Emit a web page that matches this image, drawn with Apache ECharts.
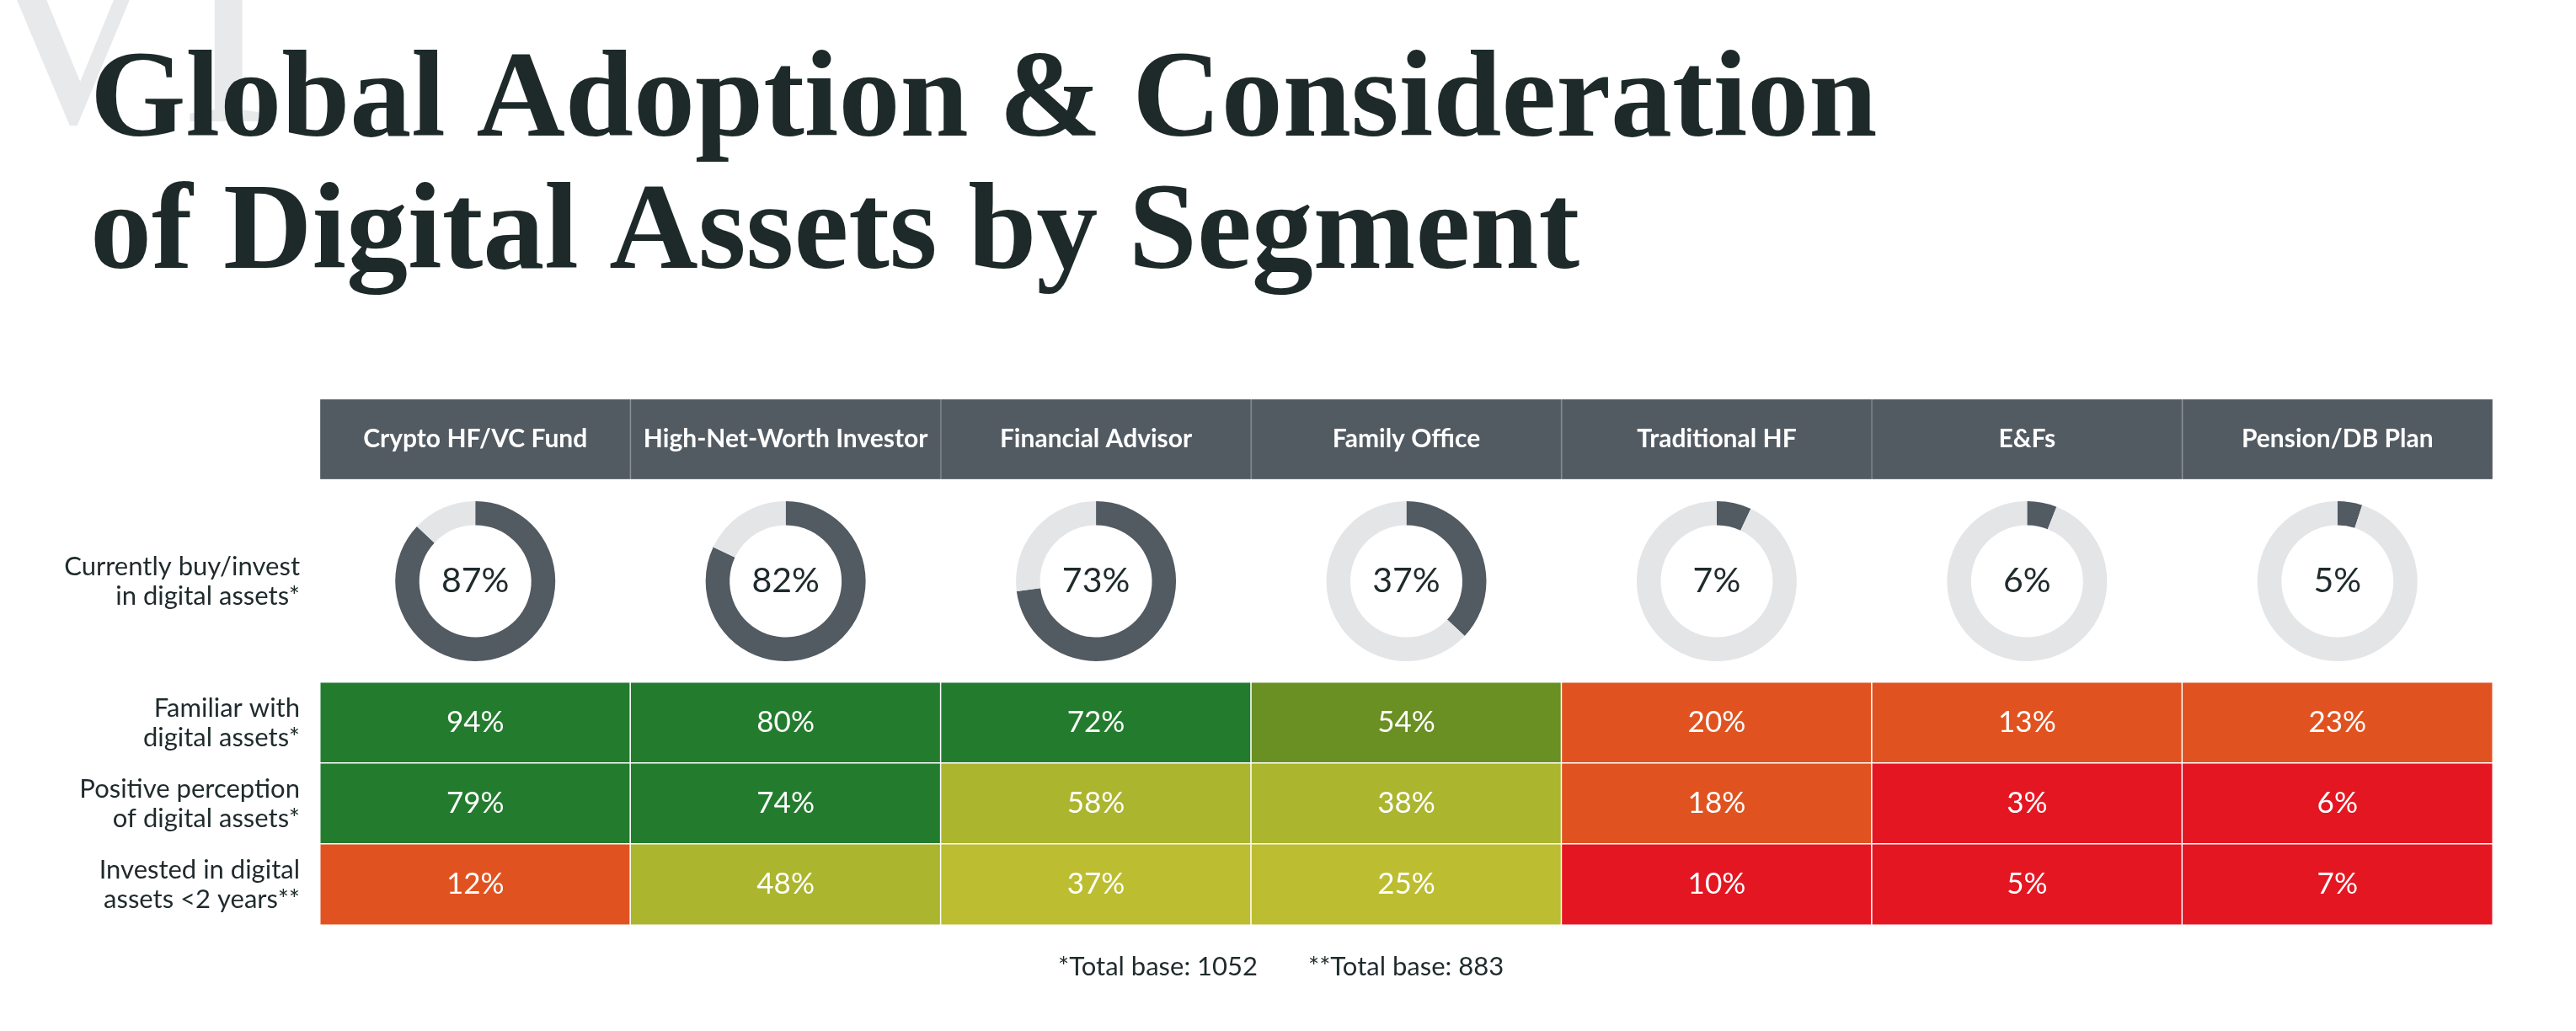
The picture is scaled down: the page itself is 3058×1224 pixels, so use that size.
<!DOCTYPE html>
<html>
<head>
<meta charset="utf-8">
<style>
  html, body { margin: 0; padding: 0; background: #ffffff; }
  #chart { width: 3058px; height: 1224px; }
</style>
<script src="https://cdn.jsdelivr.net/npm/echarts@6/dist/echarts.min.js"></script>
</head>
<body>
<div id="chart"></div>
<script>
// ---------------- DATA ----------------
const segments = ['Crypto HF/VC Fund', 'High-Net-Worth Investor', 'Financial Advisor', 'Family Office', 'Traditional HF', 'E&Fs', 'Pension/DB Plan'];
const currentlyInvest = [87, 82, 73, 37, 7, 6, 5];
const rowLabels = ['Familiar with\ndigital assets*', 'Positive perception\nof digital assets*', 'Invested in digital\nassets <2 years**'];
const familiar = [94, 80, 72, 54, 20, 13, 23];
const positive = [79, 74, 58, 38, 18, 3, 6];
const investedRecent = [12, 48, 37, 25, 10, 5, 7];
// colour tier of each cell as shown in the source (0 = strongest green ... 5 = red)
const familiarTier = [0, 0, 0, 1, 4, 4, 4];
const positiveTier = [0, 0, 2, 2, 4, 5, 5];
const recentTier = [4, 2, 3, 3, 5, 5, 5];
const donutRowLabel = 'Currently buy/invest\nin digital assets*';
const titleText = 'Global Adoption & Consideration\nof Digital Assets by Segment';
const footnote1 = '*Total base: 1052';
const footnote2 = '**Total base: 883';

// ---------------- STYLE / LAYOUT ----------------
const tierColors = ['#237c2e', '#6a8f22', '#abb52e', '#bcbd30', '#e05320', '#e41622'];
const headerColor = '#525a62';
const donutRest = '#e4e5e7';
const textDark = '#1f2a2c';
const sans = 'Lato, "Open Sans", sans-serif';
const tableLeft = 380, tableWidth = 2579;
const headerTop = 474, headerHeight = 95;
const donutCenterY = 690;
const heatTop = 810, heatHeight = 288;

const chart = echarts.init(document.getElementById('chart'), null, { renderer: 'canvas' });

const valueRows = [familiar, positive, investedRecent];
const tierRows = [familiarTier, positiveTier, recentTier];
const heatData = [];
valueRows.forEach((row, r) => {
  row.forEach((v, c) => heatData.push([c, r, v, tierRows[r][c]]));
});

const colW = tableWidth / segments.length;
const pieSeries = currentlyInvest.map((v, i) => ({
  type: 'pie',
  center: [tableLeft + colW * (i + 0.5), donutCenterY],
  radius: [66.5, 95],
  startAngle: 90,
  clockwise: true,
  silent: true,
  avoidLabelOverlap: false,
  labelLine: { show: false },
  label: {
    show: true, position: 'center', formatter: '{c}%',
    fontFamily: sans, fontSize: 41, color: textDark
  },
  emphasis: { disabled: true },
  data: [
    { value: v, name: segments[i], itemStyle: { color: headerColor } },
    { value: 100 - v, name: 'rest', itemStyle: { color: donutRest }, label: { show: false } }
  ]
}));

const option = {
  animation: false,
  backgroundColor: '#ffffff',
  title: {
    text: titleText,
    left: 102, top: 40,
    textStyle: {
      fontFamily: '"Liberation Serif", serif', fontWeight: 'bold',
      fontSize: 146, lineHeight: 157, color: '#1e2a2a'
    }
  },
  graphic: [
    {
      type: 'text', z: -10, x: -40, y: 52, silent: true,
      style: {
        text: 'VI', fontFamily: '"Liberation Serif", serif', fontSize: 350,
        fill: '#e8e9eb', align: 'left', verticalAlign: 'middle'
      }
    },
    {
      type: 'text', silent: true,
      x: 356, y: donutCenterY,
      style: {
        text: donutRowLabel, fontFamily: sans, fontSize: 31, lineHeight: 35,
        fill: textDark, align: 'right', verticalAlign: 'middle'
      }
    },
    {
      type: 'text', silent: true, x: 1493, y: 1148,
      style: { text: footnote1, fontFamily: sans, fontSize: 31, fill: textDark, align: 'right', verticalAlign: 'middle' }
    },
    {
      type: 'text', silent: true, x: 1553, y: 1148,
      style: { text: footnote2, fontFamily: sans, fontSize: 31, fill: textDark, align: 'left', verticalAlign: 'middle' }
    }
  ],
  grid: [
    { left: tableLeft, top: headerTop, width: tableWidth, height: headerHeight },
    { left: tableLeft, top: heatTop, width: tableWidth, height: heatHeight }
  ],
  xAxis: [
    { gridIndex: 0, type: 'category', data: segments, show: false },
    { gridIndex: 1, type: 'category', data: segments, show: false }
  ],
  yAxis: [
    { gridIndex: 0, type: 'value', min: 0, max: 1, show: false },
    {
      gridIndex: 1, type: 'category', data: rowLabels, inverse: true,
      axisLine: { show: false }, axisTick: { show: false }, splitLine: { show: false },
      axisLabel: {
        margin: 24, fontFamily: sans, fontSize: 31, lineHeight: 35, color: textDark, align: 'right'
      }
    }
  ],
  visualMap: {
    type: 'piecewise', show: false, dimension: 3, seriesIndex: 1,
    pieces: tierColors.map((c, i) => ({ value: i, color: c }))
  },
  series: [
    {
      type: 'bar', xAxisIndex: 0, yAxisIndex: 0, silent: true,
      data: segments.map(() => 1),
      barWidth: '100%', barCategoryGap: 0,
      itemStyle: { color: headerColor, borderColor: '#6b737a', borderWidth: 1 },
      label: {
        show: true, position: 'inside', formatter: '{b}',
        fontFamily: sans, fontWeight: 'bold', fontSize: 30, color: '#ffffff'
      }
    },
    {
      type: 'heatmap', xAxisIndex: 1, yAxisIndex: 1, silent: true,
      data: heatData,
      itemStyle: { borderColor: '#ffffff', borderWidth: 1.5 },
      label: {
        show: true, formatter: p => p.value[2] + '%',
        fontFamily: sans, fontSize: 35, color: '#ffffff'
      },
      emphasis: { disabled: true }
    },
    ...pieSeries
  ]
};

chart.setOption(option);
</script>
</body>
</html>
